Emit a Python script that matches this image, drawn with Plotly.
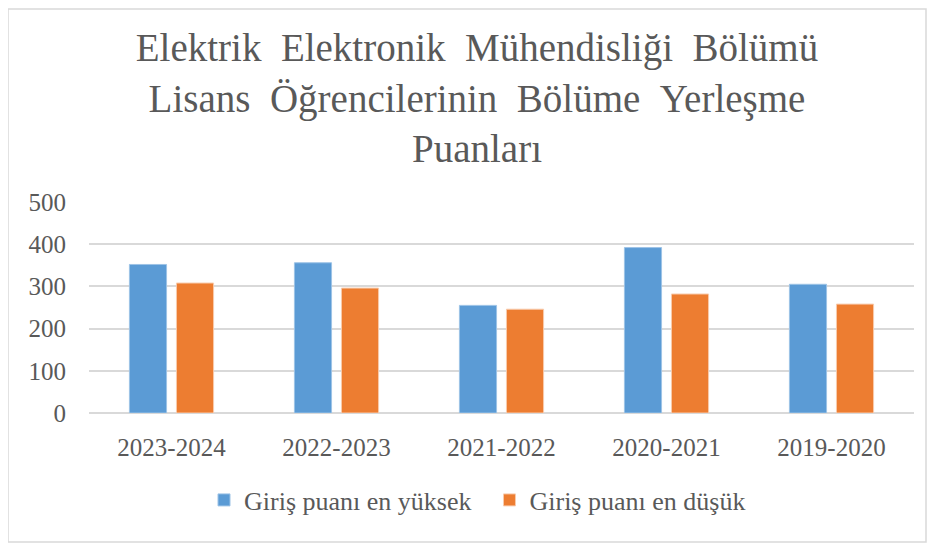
import plotly.graph_objects as go

years = ["2023-2024", "2022-2023", "2021-2022", "2020-2021", "2019-2020"]
en_yuksek = [352, 356, 255, 392, 305]
en_dusuk = [308, 296, 246, 282, 258]

yticks = [0, 100, 200, 300, 400, 500]

SERIF = "Liberation Serif"
GREY = "#595959"
sp = " \u00a0"

title_text = (
    sp.join(["Elektrik", "Elektronik", "Mühendisliği", "Bölümü"]) + "<br>"
    + sp.join(["Lisans", "Öğrencilerinin", "Bölüme", "Yerleşme"]) + "<br>"
    + "Puanları"
)

# page body adds an 8px offset, so positions below are shifted by -8
OFF = 8
W, H = 936, 546
pl, pr, pt, pb = 89 - OFF, 914 - OFF, 202 - OFF, 413 - OFF

fig = go.Figure()
fig.add_trace(go.Bar(
    x=years, y=en_yuksek, name="Giriş puanı en yüksek\u00a0\u00a0",
    marker=dict(color="#5B9BD5", line=dict(color="#9DC3E6", width=1)),
))
fig.add_trace(go.Bar(
    x=years, y=en_dusuk, name="Giriş puanı en düşük",
    marker=dict(color="#ED7D31", line=dict(color="#F8CBAD", width=1)),
))

pw, ph = pr - pl, pb - pt
fig.update_layout(
    width=W, height=H,
    margin=dict(l=pl, r=W - pr, t=pt, b=H - pb, autoexpand=False),
    paper_bgcolor="white", plot_bgcolor="white",
    barmode="group", bargap=0.43, bargroupgap=0.21,
    font=dict(family=SERIF, color=GREY, size=24),
    title=dict(
        text=title_text, x=(477 - OFF) / W, y=1 - 53 / H, xref="container", yref="container",
        xanchor="center", yanchor="top",
        font=dict(family=SERIF, size=39, color=GREY),
    ),
    legend=dict(
        orientation="h", x=(477.5 - 89) / pw, y=(413 - 500) / ph, xanchor="center", yanchor="middle",
        font=dict(family=SERIF, size=26, color=GREY),
    ),
    showlegend=True,
    shapes=[dict(
        type="rect", xref="paper", yref="paper",
        x0=(0 - pl) / pw, x1=(918 - pl) / pw, y0=(pb - 534) / ph, y1=(pb - 1) / ph,
        line=dict(color="#D9D9D9", width=1.5), fillcolor="rgba(0,0,0,0)", layer="below",
    )],
)
fig.update_xaxes(showgrid=False, ticks="", tickfont=dict(family=SERIF, size=25, color=GREY), ticklabelstandoff=17)
fig.update_yaxes(
    range=[0, 500], tickvals=yticks, showgrid=True, gridcolor="#D9D9D9", gridwidth=1.5,
    zeroline=True, zerolinecolor="#D9D9D9", zerolinewidth=1.5,
    tickfont=dict(family=SERIF, size=25, color=GREY), ticklabelstandoff=22,
)

fig.write_html("out.html")
